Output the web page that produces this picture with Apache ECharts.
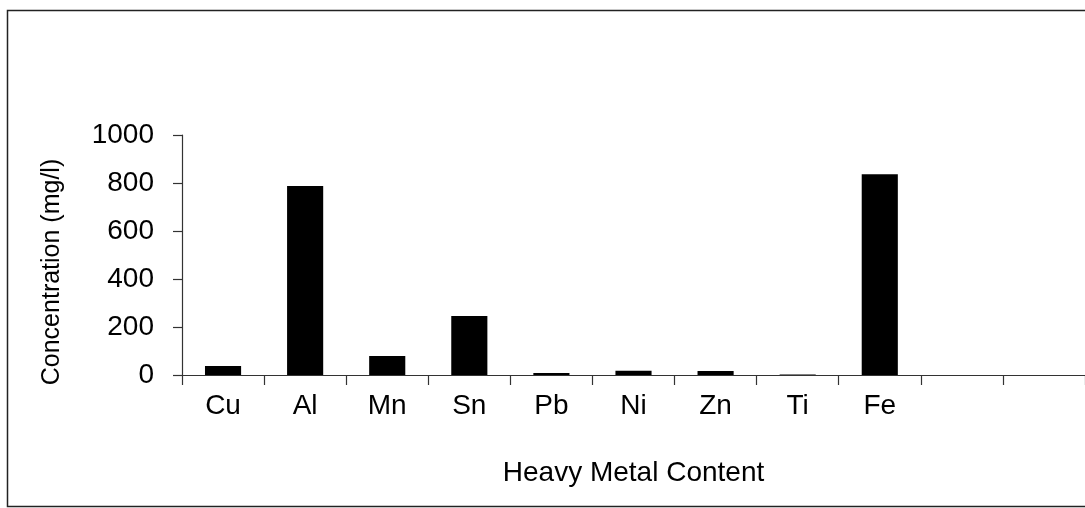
<!DOCTYPE html>
<html><head><meta charset="utf-8">
<script src="https://cdn.jsdelivr.net/npm/echarts@6/dist/echarts.min.js"></script>
<style>html,body{margin:0;padding:0;background:#fff}#c{width:1085px;height:508px}</style>
</head><body><div id="c"></div>
<script>
const categories = ['Cu','Al','Mn','Sn','Pb','Ni','Zn','Ti','Fe','',''];
const concentration = [37, 787, 79, 246, 8, 18, 17, 2, 836, 0, 0];
const yTicks = [0, 200, 400, 600, 800, 1000];
const yName = 'Concentration (mg/l)';
const xName = 'Heavy Metal Content';

const chart = echarts.init(document.getElementById('c'), null, {renderer:'canvas'});
const font = 'Liberation Sans, Arial, Helvetica, sans-serif';
chart.setOption({
  animation: false,
  backgroundColor: '#fff',
  textStyle: {fontFamily: font},
  graphic: [{
    type: 'rect', shape: {x: 7.5, y: 10.5, width: 1100, height: 496},
    style: {fill: 'none', stroke: '#222', lineWidth: 1.5}, silent: true
  }, {
    type: 'text', x: 52, y: 272, rotation: Math.PI / 2,
    style: {text: yName, font: '25px ' + font, fill: '#000', align: 'center', verticalAlign: 'middle'},
    silent: true
  }],
  grid: {left: 182, right: -13, top: 135, bottom: 133},
  xAxis: {
    type: 'category', data: categories,
    name: xName, nameLocation: 'middle', nameGap: 84,
    nameTextStyle: {color: '#000', fontSize: 28, fontFamily: font},
    axisLine: {lineStyle: {color: '#333', width: 1.2}},
    axisTick: {show: true, length: 10, lineStyle: {color: '#333', width: 1.2}},
    axisLabel: {color: '#000', fontSize: 28, margin: 17, fontFamily: font}
  },
  yAxis: {
    type: 'value', min: 0, max: 1000, interval: 200,
    axisLine: {show: true, lineStyle: {color: '#333', width: 1.2}},
    axisTick: {show: true, length: 9, lineStyle: {color: '#333', width: 1.2}},
    splitLine: {show: false},
    axisLabel: {color: '#000', fontSize: 28, margin: 28, fontFamily: font,
      formatter: v => yTicks.includes(v) ? String(v) : ''}
  },
  series: [{
    type: 'bar', data: concentration, barWidth: '44%',
    itemStyle: {color: '#000'}
  }]
});
</script></body></html>
